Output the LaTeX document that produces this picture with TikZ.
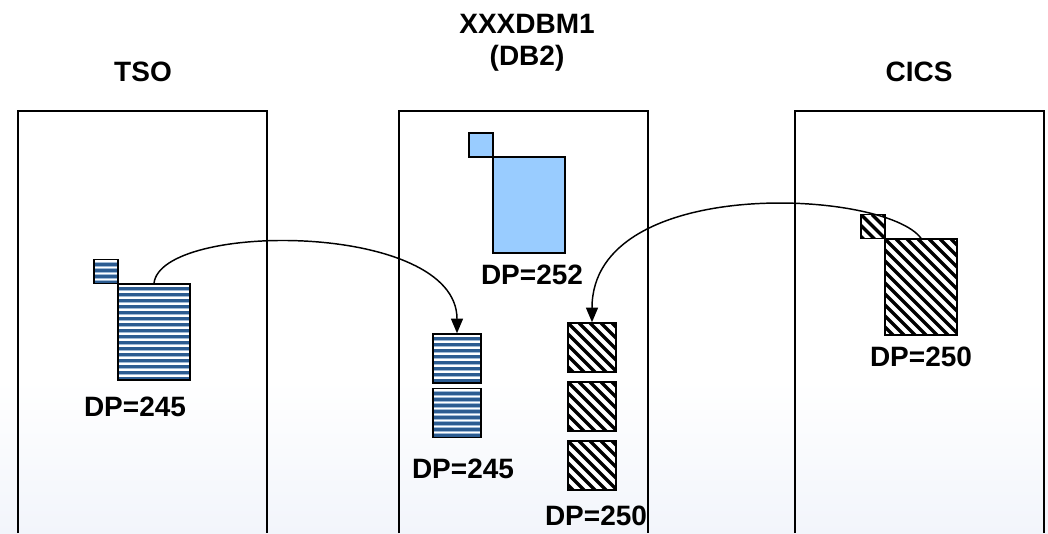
\documentclass[tikz,border=0pt]{standalone}
\usepackage{fontspec}
\setmainfont{Liberation Sans}
\usetikzlibrary{arrows.meta}

\definecolor{stripedark}{RGB}{44,92,145}
\definecolor{stripelight}{RGB}{160,186,214}
\definecolor{dbblue}{RGB}{153,204,255}
\definecolor{fadeblue}{RGB}{242,245,251}

\tikzset{
	lbl/.style={font=\fontsize{21}{25}\selectfont\bfseries, inner sep=0pt},
	pbox/.style={draw, line width=1.1pt, inner sep=0pt, fill=white},
	stripes/.style={pbox, path picture={
		\foreach \k in {0,...,17}{
			\fill[stripelight] ([yshift=-\k*4.5pt-2pt]path picture bounding box.north west) rectangle ++(120,4.6);
			\fill[stripedark] ([yshift=-\k*4.5pt-2.6pt]path picture bounding box.north west) rectangle ++(120,3);
		}}},
	hatch/.style={pbox, path picture={
		\foreach \k in {-14,...,10}
			\draw[line width=2.5pt] ([xshift=\k*8.25pt]path picture bounding box.north west) -- ++(150,150);
		}},
	plain/.style={pbox, fill=dbblue},
	small/.style={minimum width=18pt, minimum height=18pt},
	big/.style={minimum width=54pt, minimum height=72pt},
	unit/.style={minimum width=36pt, minimum height=36.75pt},
	flow/.style={line width=1.1pt, -{Triangle[length=11pt,width=9pt]}}
}

\begin{document}
\begin{tikzpicture}[x=0.75pt,y=-0.75pt]
	\useasboundingbox (0,0) rectangle (1048,533);
	% faint fade at the foot
	\shade[top color=white, bottom color=fadeblue] (0,380) rectangle (1048,533);

	% address spaces
	\draw[line width=1.1pt] (18,533) -- (18,111) -- (267,111) -- (267,533);
	\draw[line width=1.1pt] (399,533) -- (399,111) -- (648,111) -- (648,533);
	\draw[line width=1.1pt] (795,533) -- (795,111) -- (1044,111) -- (1044,533);
	\node[lbl] (tso) at (143,72) {TSO};
	\node[lbl] (dbm) at (527,24) {XXXDBM1};
	\node[lbl] (dbtwo) at (527,58) {(DB2)};
	\node[lbl] (cics) at (919,72) {CICS};

	% TSO
	\node[stripes, small] (tsosmall) at (106,271.5) {};
	\node[stripes, big] (tsobig) at (154,332) {};
	\node[lbl] (tsodp) at (135,407) {DP=245};

	% DBM1
	\node[plain, small] (dbsmall) at (481,145) {};
	\node[plain, big] (dbbig) at (529,205) {};
	\node[lbl] (dbdp) at (532,275) {DP=252};
	\node[stripes, unit] (tsobufa) at (457,358.5) {};
	\node[stripes, unit] (tsobufb) at (457,413) {};
	\node[lbl] (tsobufdp) at (463,469) {DP=245};
	\node[hatch, unit] (cicsbufa) at (592,347.5) {};
	\node[hatch, unit] (cicsbufb) at (592,406.5) {};
	\node[hatch, unit] (cicsbufc) at (592,465.5) {};
	\node[lbl] (cicsbufdp) at (596,516) {DP=250};

	% CICS
	\node[hatch, small] (cicssmall) at (873,226.5) {};
	\node[hatch, big] (cicsbig) at (921,287) {};
	\node[lbl] (cicsdp) at (921,357) {DP=250};

	% flows into DBM1
	\draw[flow] (tsobig.north) .. controls +(7,-62) and +(0,-112) .. (tsobufa.north);
	\draw[flow] (cicsbig.north) .. controls +(-36,-49) and +(0,-148) .. (cicsbufa.north);
\end{tikzpicture}
\end{document}
